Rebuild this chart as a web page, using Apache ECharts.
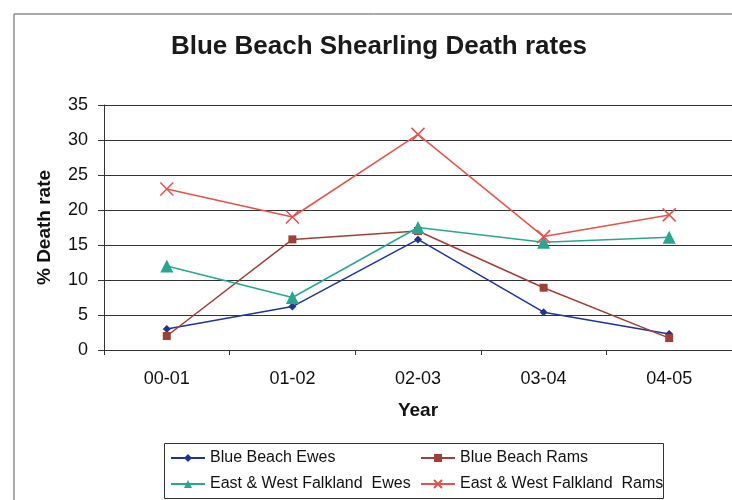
<!DOCTYPE html>
<html>
<head>
<meta charset="utf-8">
<script src="https://cdn.jsdelivr.net/npm/echarts@6/dist/echarts.min.js"></script>
<style>
  html, body { margin: 0; padding: 0; background: #fff; }
  #chart { width: 732px; height: 500px; }
</style>
</head>
<body>
<div id="chart"></div>
<script>
// Shearling death rates by season
const years = ['00-01', '01-02', '02-03', '03-04', '04-05'];
const blueBeachEwes = [3.0, 6.2, 15.8, 5.4, 2.3];
const blueBeachRams = [2.0, 15.8, 17.0, 8.9, 1.7];
const ewFalklandEwes = [12.0, 7.5, 17.5, 15.4, 16.1];
const ewFalklandRams = [23.0, 19.0, 30.8, 16.2, 19.3];
const yTicks = [0, 5, 10, 15, 20, 25, 30, 35];

const FONT = 'Liberation Sans, Arial, sans-serif';
const crossPath = 'path://M0,0L10,10M10,0L0,10';

const chart = echarts.init(document.getElementById('chart'), null, { renderer: 'canvas' });

function lineSeries(name, data, color, symbol, size, extra) {
  return Object.assign({
    name: name,
    type: 'line',
    data: data,
    symbol: symbol,
    symbolSize: size,
    showAllSymbol: true,
    lineStyle: { color: color, width: 1.5 },
    itemStyle: { color: color },
    emphasis: { disabled: true },
    animation: false,
    z: 3
  }, extra || {});
}

const legendText = { fontFamily: FONT, fontSize: 16, color: '#111' };

chart.setOption({
  backgroundColor: '#ffffff',
  animation: false,
  title: {
    text: 'Blue Beach Shearling Death rates',
    left: 374,
    textAlign: 'center',
    top: 29,
    textStyle: { fontFamily: FONT, fontSize: 26, fontWeight: 'bold', color: '#1a1a1a' }
  },
  graphic: [
    { type: 'rect', shape: { x: 14, y: 14, width: 740, height: 500 },
      style: { fill: 'none', stroke: '#555', lineWidth: 1 }, silent: true, z: -1 },
    { type: 'rect', shape: { x: 164.5, y: 443.5, width: 499, height: 55 },
      style: { fill: 'none', stroke: '#333', lineWidth: 1 }, silent: true, z: -1 }
  ],
  legend: [
    {
      orient: 'vertical', left: 170, top: 450, itemGap: 10, padding: 0,
      itemWidth: 34, itemHeight: 10,
      data: ['Blue Beach Ewes', 'East & West Falkland  Ewes'],
      textStyle: legendText,
      selectedMode: false
    },
    {
      orient: 'vertical', left: 420, top: 450, itemGap: 10, padding: 0,
      itemWidth: 34, itemHeight: 10,
      data: ['Blue Beach Rams', 'East & West Falkland  Rams'],
      textStyle: legendText,
      selectedMode: false
    }
  ],
  grid: { left: 104, top: 105, width: 628, height: 245, containLabel: false },
  xAxis: {
    type: 'category',
    data: years,
    boundaryGap: true,
    name: 'Year',
    nameLocation: 'middle',
    nameGap: 51,
    nameTextStyle: { fontFamily: FONT, fontSize: 19, fontWeight: 'bold', color: '#111' },
    axisLine: { lineStyle: { color: '#333', width: 1 } },
    axisTick: { show: true, alignWithLabel: false, length: 5, lineStyle: { color: '#333' } },
    axisLabel: { fontFamily: FONT, fontSize: 18, color: '#111', margin: 20 }
  },
  yAxis: {
    type: 'value',
    min: yTicks[0],
    max: yTicks[yTicks.length - 1],
    interval: 5,
    name: '% Death rate',
    nameLocation: 'middle',
    nameGap: 50,
    nameTextStyle: { fontFamily: FONT, fontSize: 19, fontWeight: 'bold', color: '#111' },
    axisLine: { show: true, lineStyle: { color: '#333', width: 1 } },
    axisTick: { show: true, length: 6, lineStyle: { color: '#333' } },
    axisLabel: { fontFamily: FONT, fontSize: 18, color: '#111', margin: 16 },
    splitLine: { show: true, lineStyle: { color: '#333', width: 1 } }
  },
  series: [
    lineSeries('Blue Beach Ewes', blueBeachEwes, '#1f3590', 'diamond', 8),
    lineSeries('Blue Beach Rams', blueBeachRams, '#9c4038', 'rect', 8),
    lineSeries('East & West Falkland  Ewes', ewFalklandEwes, '#2aa58f', 'triangle', 13),
    lineSeries('East & West Falkland  Rams', ewFalklandRams, '#e0544f', crossPath, 13, {
      itemStyle: { color: '#e0544f', borderColor: '#e0544f', borderWidth: 1.5 }
    })
  ]
});
</script>
</body>
</html>
